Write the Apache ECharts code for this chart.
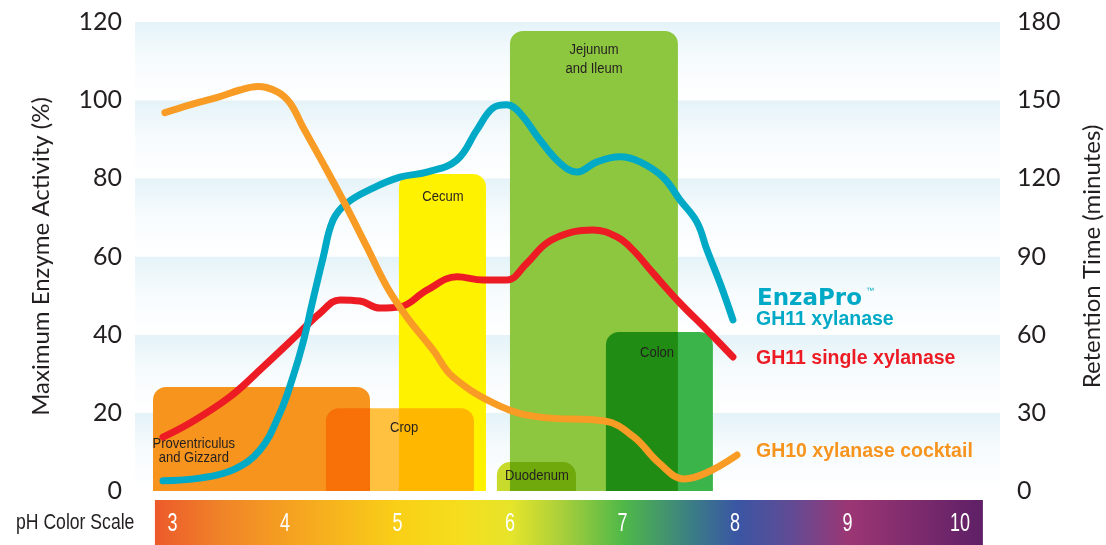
<!DOCTYPE html>
<html>
<head>
<meta charset="utf-8">
<title>Enzyme activity vs pH</title>
<script src="https://cdn.jsdelivr.net/npm/echarts@6/dist/echarts.min.js"></script>
<style>
  html, body { margin: 0; padding: 0; width: 100%; height: 100%; background: #fff; }
  #chart { width: 1106px; height: 545px; }
</style>
</head>
<body>
<div id="chart"></div>
<script>
// pH range shown on the x axis
var phMin = 2.667, phMax = 10.356;
var phTicks = [3, 4, 5, 6, 7, 8, 9, 10];
var phScaleRange = [2.844, 10.204];

// [pH, maximum enzyme activity %]
var gh10Cocktail = [
  [2.933, 96.8], [3.156, 98.8], [3.422, 100.9], [3.6, 102.6], [3.76, 103.5],
  [3.929, 102.2], [4.044, 99.3], [4.16, 93.1], [4.338, 83.9], [4.516, 74.4],
  [4.729, 62.4], [4.907, 52.2], [5.084, 44.5], [5.316, 36.1], [5.493, 29.2],
  [5.911, 21.7], [6.267, 18.9], [6.844, 17.9], [7.102, 13.8], [7.324, 7.2],
  [7.547, 3.1], [7.742, 4.6], [8.018, 9.2]
];
var enzaProGH11 = [
  [2.916, 2.6], [3.244, 3.3], [3.538, 5.4], [3.778, 10.5], [3.956, 20.0],
  [4.071, 29.2], [4.16, 37.9], [4.249, 48.9], [4.338, 59.6], [4.427, 69.3],
  [4.551, 73.7], [4.782, 77.5], [5.022, 80.3], [5.262, 81.6], [5.529, 84.7],
  [5.707, 92.4], [5.849, 98.0], [5.973, 98.8], [6.089, 96.7], [6.267, 89.8],
  [6.444, 83.9], [6.596, 81.6], [6.773, 84.2], [6.978, 85.5], [7.156, 84.2],
  [7.36, 80.3], [7.511, 74.5], [7.662, 68.8], [7.751, 61.7], [7.867, 53.2],
  [7.982, 43.8]
];
var gh11Single = [
  [2.916, 13.8], [3.156, 17.4], [3.511, 24.1], [3.804, 31.7], [4.107, 39.9],
  [4.311, 45.5], [4.489, 48.9], [4.667, 48.6], [4.844, 46.8], [5.022, 47.1],
  [5.262, 51.4], [5.529, 54.8], [5.76, 54.0], [5.973, 54.0], [6.151, 58.3],
  [6.329, 63.5], [6.56, 66.3], [6.738, 66.8], [6.951, 65.0], [7.093, 61.7],
  [7.271, 55.8], [7.511, 48.1], [7.751, 41.2], [7.982, 34.3]
];

// digestive tract sections: pH from, pH to, height (%)
var zoneNames = ['Proventriculus\nand Gizzard', 'Cecum', 'Crop', 'Jejunum\nand Ileum', 'Duodenum', 'Colon'];
var zoneSpans = [
  [2.827, 4.756, 26.6],
  [5.013, 5.787, 81.1],
  [4.364, 5.68, 21.2],
  [6.0, 7.493, 117.7],
  [5.884, 6.587, 7.4],
  [6.853, 7.804, 40.7]
];
var zoneLabelAt = [
  [3.19, 10.2], [5.404, 75.4], [5.06, 16.1], [6.747, 110.6], [6.24, 3.8], [7.307, 35.3]
];
var zoneColors = ['#F7941D', '#FFF200', '#FFC13F', '#8DC63F', '#C8DA2C', '#3BB54A'];

var phScaleColors = [
  [0, '#EC5A2B'], [0.081, '#F08428'], [0.159, '#F5A021'], [0.296, '#F9D017'],
  [0.371, '#F5DE1E'], [0.431, '#E5E42A'], [0.492, '#A9CF3B'], [0.566, '#4FB848'],
  [0.649, '#3B7D86'], [0.703, '#3A56A4'], [0.769, '#614B94'], [0.838, '#9C3674'],
  [1, '#5E2066']
];

var textColor = '#231F20';
var axisFont = 'Lato';
var sansFont = '"Liberation Sans", Arial, sans-serif';

var chart = echarts.init(document.getElementById('chart'));

function zoneRect(fillFor) {
  return function (params, api) {
    var tl = api.coord([api.value(0), api.value(2)]);
    var br = api.coord([api.value(1), 0]);
    return {
      type: 'rect',
      shape: { x: tl[0], y: tl[1], width: br[0] - tl[0], height: br[1] - tl[1], r: [13, 13, 0, 0] },
      style: { fill: fillFor(params.dataIndex) }
    };
  };
}

function curve(name, data, color) {
  return {
    name: name,
    type: 'line',
    xAxisIndex: 0,
    yAxisIndex: 0,
    data: data,
    smooth: 0.4,
    symbol: 'none',
    z: 5,
    lineStyle: { color: color, width: 7, cap: 'round', join: 'round' }
  };
}

function legendText(x, y, text, color, font) {
  return { type: 'text', x: x, y: y, z: 20, style: { text: text, fill: color, font: font, verticalAlign: 'middle' } };
}

var bandGradient = {
  type: 'linear', x: 0, y: 0, x2: 0, y2: 1,
  colorStops: [
    { offset: 0, color: '#E4F3F8' },
    { offset: 0.45, color: '#F6FBFD' },
    { offset: 1, color: '#FFFFFF' }
  ]
};

var option = {
  animation: false,
  backgroundColor: '#fff',
  grid: [
    { left: 135, right: 106, top: 22, bottom: 54, containLabel: false, outerBoundsMode: 'none' },
    { left: 135, right: 106, top: 500, height: 45, containLabel: false, outerBoundsMode: 'none' }
  ],
  xAxis: [
    { type: 'value', gridIndex: 0, min: phMin, max: phMax, show: false },
    { type: 'value', gridIndex: 1, min: phMin, max: phMax, show: false }
  ],
  yAxis: [
    {
      type: 'value', gridIndex: 0, min: 0, max: 120, interval: 20,
      name: 'Maximum Enzyme Activity (%)', nameLocation: 'middle', nameGap: 82, nameRotate: 90,
      nameTextStyle: { color: textColor, fontFamily: axisFont, fontSize: 24 },
      axisLine: { show: false }, axisTick: { show: false }, splitLine: { show: false },
      splitArea: { show: true, areaStyle: { color: [bandGradient] } },
      axisLabel: { color: textColor, fontFamily: axisFont, fontSize: 25, margin: 13, padding: [7, 0, 0, 0] }
    },
    {
      type: 'value', gridIndex: 0, position: 'right', min: 0, max: 180, interval: 30,
      name: 'Retention Time (minutes)', nameLocation: 'middle', nameGap: 80, nameRotate: 90,
      nameTextStyle: { color: textColor, fontFamily: axisFont, fontSize: 24 },
      axisLine: { show: false }, axisTick: { show: false }, splitLine: { show: false },
      axisLabel: { color: textColor, fontFamily: axisFont, fontSize: 25, margin: 17, padding: [7, 0, 0, 0] }
    },
    { type: 'value', gridIndex: 1, min: 0, max: 1, show: false }
  ],
  graphic: [
    { type: 'text', x: 16, y: 523, z: 20, scaleX: 0.8, style: { text: 'pH Color Scale', fill: textColor, font: '22px ' + sansFont, verticalAlign: 'middle' } },
    legendText(757, 299, 'EnzaPro', '#00A9C6', 'bold 23px "DejaVu Sans"'),
    legendText(866, 291, '\u2122', '#00A9C6', '8px "Liberation Sans"'),
    legendText(756, 320, 'GH11 xylanase', '#00A9C6', 'bold 19.5px ' + sansFont),
    legendText(756, 359, 'GH11 single xylanase', '#ED1C24', 'bold 19.5px ' + sansFont),
    legendText(756, 452, 'GH10 xylanase cocktail', '#F7941D', 'bold 19.5px ' + sansFont)
  ],
  series: [
    {
      // white underlay so the multiplied sections are not tinted by the bands
      type: 'custom', xAxisIndex: 0, yAxisIndex: 0, z: 2, silent: true,
      data: zoneSpans, encode: { x: [0, 1], y: 2 },
      renderItem: zoneRect(function () { return '#fff'; })
    },
    {
      type: 'custom', xAxisIndex: 0, yAxisIndex: 0, z: 3, silent: true,
      blendMode: 'multiply',
      data: zoneSpans, encode: { x: [0, 1], y: 2 },
      renderItem: zoneRect(function (i) { return zoneColors[i]; })
    },
    {
      type: 'custom', xAxisIndex: 0, yAxisIndex: 0, z: 4, silent: true,
      data: zoneLabelAt, encode: { x: 0, y: 1 },
      renderItem: function (params, api) {
        var p = api.coord([api.value(0), api.value(1)]);
        var name = zoneNames[params.dataIndex];
        return {
          type: 'text', x: p[0], y: p[1], scaleX: 0.84,
          style: {
            text: name, fill: textColor,
            font: '15.5px ' + sansFont, align: 'center', verticalAlign: 'middle',
            lineHeight: name.indexOf('Jejunum') === 0 ? 19 : 14
          }
        };
      }
    },
    curve('GH11 single xylanase', gh11Single, '#ED1C24'),
    curve('EnzaPro GH11 xylanase', enzaProGH11, '#00A9C6'),
    curve('GH10 xylanase cocktail', gh10Cocktail, '#F89C25'),
    {
      type: 'custom', xAxisIndex: 1, yAxisIndex: 2, z: 2, silent: true,
      data: [phScaleRange], encode: { x: [0, 1] },
      renderItem: function (params, api) {
        var a = api.coord([api.value(0), 1]);
        var b = api.coord([api.value(1), 0]);
        var children = [{
          type: 'rect',
          shape: { x: a[0], y: a[1], width: b[0] - a[0], height: b[1] - a[1] },
          style: {
            fill: {
              type: 'linear', x: 0, y: 0, x2: 1, y2: 0,
              colorStops: phScaleColors.map(function (s) { return { offset: s[0], color: s[1] }; })
            }
          }
        }];
        phTicks.forEach(function (t) {
          var p = api.coord([t, 0.5]);
          children.push({
            type: 'text', x: p[0], y: p[1] + 2, scaleX: 0.72,
            style: { text: String(t), fill: '#fff', font: '25px ' + sansFont, align: 'center', verticalAlign: 'middle' }
          });
        });
        return { type: 'group', children: children };
      }
    }
  ]
};

chart.setOption(option);
</script>
</body>
</html>
